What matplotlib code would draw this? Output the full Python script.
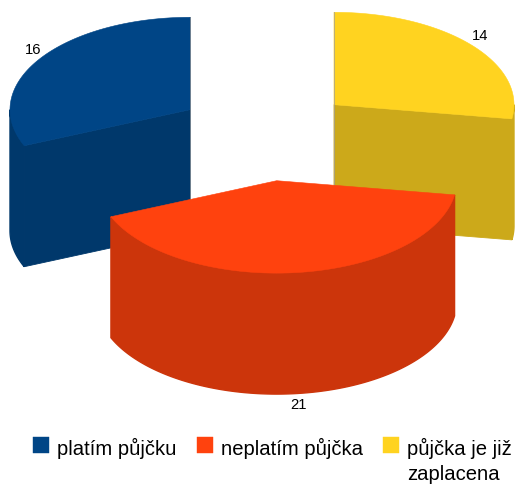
import numpy as np
import matplotlib
matplotlib.use("Agg")
import matplotlib.pyplot as plt
from matplotlib.patches import Polygon, Patch

categories = ["platím půjčku", "neplatím půjčka", "půjčka je již\nzaplacena"]
values = [16, 21, 14]
colors = ["#004586", "#ff420e", "#ffd320"]
side_colors = ["#00386b", "#cc350b", "#cca91a"]

# explosion apex of each slice, pixel space
apex = {0: (190, 110.7), 1: (276.7, 181.7), 2: (334, 105.7)}
RX, RY, DEPTH = 180.0, 92.4, 121

plt.rcParams["font.family"] = ["Liberation Sans", "DejaVu Sans"]
fig = plt.figure(figsize=(5.18, 4.89), dpi=100)
ax = fig.add_axes([0, 0, 1, 1])
ax.set_xlim(0, 518)
ax.set_ylim(489, 0)
ax.axis("off")

fractions = np.array(values, dtype=float) / sum(values)
# slices run clockwise; yellow starts at 12 o'clock, then red, then blue
order = [2, 1, 0]
starts, a = {}, 0.0
for i in order:
    starts[i] = (a, a + fractions[i] * 360)
    a += fractions[i] * 360


def arc(i, t0, t1):
    t = np.radians(np.linspace(t0, t1, 200))
    cx, cy = apex[i]
    return np.column_stack([cx + RX * np.sin(t), cy - RY * np.cos(t)])


def poly(pts, fc, ec=None, z=1, lw=0.4):
    ax.add_patch(Polygon(pts, closed=True, facecolor=fc, edgecolor=ec or fc,
                         linewidth=lw, zorder=z))


down = np.array([0, DEPTH])
for z, i in enumerate([0, 2, 1]):
    t0, t1 = starts[i]
    base = z * 10
    c = np.array(apex[i], dtype=float)
    pts = arc(i, t0, t1)
    # outer wall: only the part of the rim that faces the viewer
    v0, v1 = max(t0, 90), min(t1, 270)
    if v1 > v0:
        rim = arc(i, v0, v1)
        poly(np.vstack([rim, (rim + down)[::-1]]), side_colors[i], side_colors[i], base + 1, lw=1.0)
    # radial walls of the exploded slices
    if i != 1:
        for p in (pts[0], pts[-1]):
            poly([c, p, p + down, c + down], side_colors[i], side_colors[i], base + 2, lw=0.6)
    # thin grey outline on the straight vertical cut
    if i != 1:
        x = c[0]
        ax.plot([x, x], [c[1] - RY, c[1] + DEPTH], color="#a0a0a0", lw=0.5, zorder=base + 4)
    # top
    poly(np.vstack([[c], pts]), colors[i], colors[i], base + 3)

# value labels
label_pos = {0: (33, 50.5), 1: (298.3, 405), 2: (480, 36)}
for i, v in enumerate(values):
    ax.text(*label_pos[i], str(v), fontsize=10.6, ha="center", va="center",
            color="black", zorder=50)

handles = [Patch(facecolor=c, edgecolor=c, linewidth=0.3) for c in colors]
leg = ax.legend(handles, categories, ncol=3, frameon=False, fontsize=14.6,
                loc="upper left", bbox_to_anchor=(33 / 518, 1 - 438 / 489),
                borderaxespad=0, borderpad=0, handlelength=0.8, handleheight=0.8,
                handletextpad=0.4, columnspacing=0.98, labelspacing=0)
for t in leg.get_texts():
    t.set_linespacing(1.4)
# first text line level with the swatch, second line hanging below it
leg._legend_handle_box.align = "top"
for col in leg._legend_handle_box.get_children():
    for row in col.get_children():
        row.align = "top"
fig.savefig("out.png", dpi=100)
